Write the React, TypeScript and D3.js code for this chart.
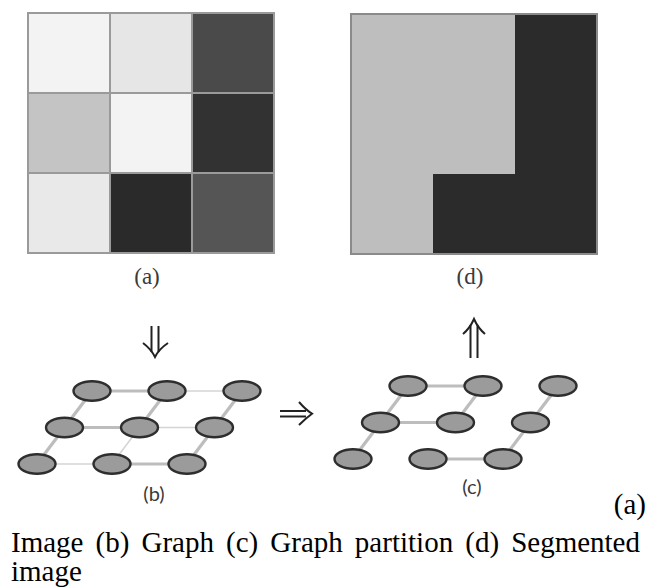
import React, { useEffect, useRef } from 'react';
import * as d3 from 'd3';

// image (a): grey level of each pixel, row by row
const pixelRows = [
    ['#f3f3f3', '#e6e6e6', '#4a4a4a'],
    ['#c4c4c4', '#f3f3f3', '#323232'],
    ['#e9e9e9', '#2a2a2a', '#555555'],
];
// segmentation (d): segment index of each pixel
const segmentRows = [
    [0, 0, 1],
    [0, 0, 1],
    [0, 1, 1],
];
const segmentColors = ['#bebebe', '#2b2b2b'];

// graph edges: [row1, col1, row2, col2, strong]
const edges: [number, number, number, number, boolean][] = [
    [0, 0, 0, 1, true], [0, 1, 0, 2, false],
    [1, 0, 1, 1, true], [1, 1, 1, 2, false],
    [2, 0, 2, 1, false], [2, 1, 2, 2, true],
    [0, 0, 1, 0, true], [1, 0, 2, 0, true],
    [0, 1, 1, 1, true], [1, 1, 2, 1, false],
    [0, 2, 1, 2, true], [1, 2, 2, 2, true],
];
const nodeRows = [0, 1, 2];
const nodeCols = [0, 1, 2];

const panelLabels = ['(a)', '(b)', '(c)', '(d)'];
const captionLine1 = 'Image (b) Graph (c) Graph partition (d) Segmented';
const captionLine2 = 'image';
const captionTag = '(a)';

const W = 649;
const H = 588;

const App: React.FC = () => {
    const capRef = useRef<SVGTextElement>(null);

    useEffect(() => {
        // justify the first caption line like the original paragraph
        if (!capRef.current) return;
        const t = d3.select(capRef.current);
        const len = capRef.current.getComputedTextLength();
        const gaps = captionLine1.split(' ').length - 1;
        t.attr('word-spacing', Math.max(0, (629 - len) / gaps));
    }, []);

    const gx = d3.scaleBand<number>().domain([0, 1, 2]).range([28, 274]);
    const gy = d3.scaleBand<number>().domain([0, 1, 2]).range([13, 253]);
    const dx = d3.scaleBand<number>().domain([0, 1, 2]).range([351, 597]);
    const dy = d3.scaleBand<number>().domain([0, 1, 2]).range([14, 254]);

    const graph = (x0: number, y0: number, showAll: boolean) => {
        const cx = d3.scaleLinear().domain([0, 2]).range([x0, x0 + 150]);
        const cy = d3.scaleLinear().domain([0, 2]).range([y0, y0 + 73]);
        const px = (r: number, c: number) => cx(c) - r * 27.5;
        return (
            <g>
                {edges.filter(e => showAll || e[4]).map((e, i) => (
                    <line key={i}
                        x1={px(e[0], e[1])} y1={cy(e[0])}
                        x2={px(e[2], e[3])} y2={cy(e[2])}
                        stroke={e[4] ? '#bdbdbd' : '#d4d4d4'}
                        strokeWidth={e[4] ? 3.2 : 1.6} />
                ))}
                {nodeRows.map(r => nodeCols.map(c => (
                    <ellipse key={`${r}-${c}`} cx={px(r, c)} cy={cy(r)} rx={18.5} ry={9.8}
                        fill="#9b9b9b" stroke="#2e2e2e" strokeWidth={2.4} />
                )))}
            </g>
        );
    };

    const arrowStyle = { fill: 'none', stroke: '#222', strokeWidth: 2 };

    return (
        <svg width={W} height={H} style={{ position: 'absolute', left: 0, top: 0, background: '#fff' }}>
            {/* (a) image */}
            <g>
                {pixelRows.map((row, r) => row.map((col, c) => (
                    <rect key={`${r}-${c}`} x={gx(c)} y={gy(r)} width={gx.bandwidth()} height={gy.bandwidth()}
                        fill={col} stroke="#9a9a9a" strokeWidth={2} />
                )))}
            </g>
            {/* (d) segmented */}
            <g>
                {segmentRows.map((row, r) => row.map((s, c) => (
                    <rect key={`${r}-${c}`} x={dx(c)} y={dy(r)} width={dx.bandwidth() + 0.5} height={dy.bandwidth() + 0.5}
                        fill={segmentColors[s]} />
                )))}
                <rect x={351} y={14} width={246} height={240} fill="none" stroke="#8a8a8a" strokeWidth={2} />
            </g>

            {graph(92, 391, true)}
            {graph(408, 386, false)}

            {/* arrows */}
            <g {...arrowStyle}>
                <path d="M151.5,326 V352 M158.5,326 V352" />
                <path d="M143,343 Q151,349 155,357 Q159,349 168,343" />
                <path d="M470.5,325 V358 M477.5,325 V358" />
                <path d="M463,334 Q470,328 474,319 Q478,328 485,334" />
                <path d="M280,411 H306 M280,416.5 H306" />
                <path d="M299,402 Q306,410 312,413.7 Q306,418 299,425" />
            </g>

            {/* panel labels */}
            <g fill="#3a3a3a">
                <text x={147} y={284} textAnchor="middle" fontFamily="'Liberation Serif', serif" fontSize={23}>{panelLabels[0]}</text>
                <text x={154} y={501} textAnchor="middle" fontFamily="Lato, sans-serif" fontSize={20}>{panelLabels[1]}</text>
                <text x={472} y={494} textAnchor="middle" fontFamily="Lato, sans-serif" fontSize={20}>{panelLabels[2]}</text>
                <text x={470} y={284} textAnchor="middle" fontFamily="'Liberation Serif', serif" fontSize={23}>{panelLabels[3]}</text>
            </g>

            {/* caption */}
            <g fill="#000" fontFamily="'Liberation Serif', 'Times New Roman', serif" fontSize={29}>
                <text x={646} y={514} textAnchor="end">{captionTag}</text>
                <text ref={capRef} x={11} y={552}>{captionLine1}</text>
                <text x={11} y={581}>{captionLine2}</text>
            </g>
        </svg>
    );
};

export default App;
